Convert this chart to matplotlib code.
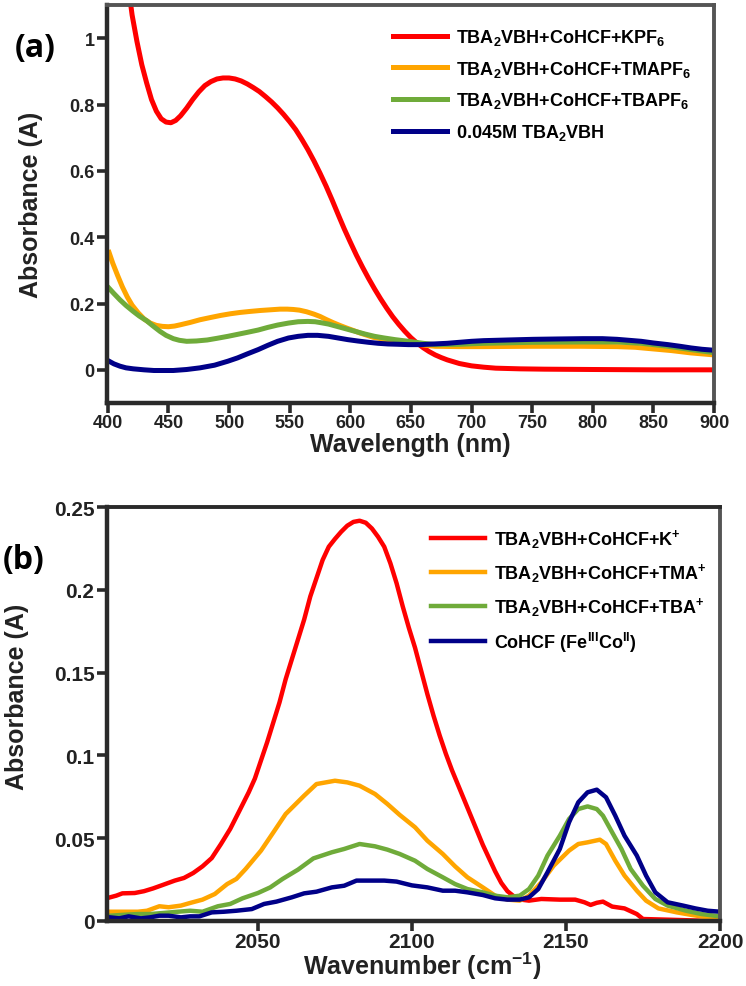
import matplotlib
matplotlib.use("Agg")
import matplotlib.pyplot as plt

plt.rcParams['font.family'] = ['Liberation Sans', 'DejaVu Sans']
plt.rcParams['font.weight'] = 'bold'
plt.rcParams['axes.labelweight'] = 'bold'
plt.rcParams['mathtext.fontset'] = 'custom'
plt.rcParams['mathtext.rm'] = 'Liberation Sans:bold'
plt.rcParams['mathtext.it'] = 'Liberation Sans:bold'
plt.rcParams['mathtext.bf'] = 'Liberation Sans:bold'
plt.rcParams['mathtext.default'] = 'rm'

#### PANEL (a) UV-vis ####
wl_kpf6 = [412, 416, 420, 424, 428, 432, 436, 440, 444, 448, 452, 456, 460, 465, 470, 475, 480, 485,
           490, 495, 500, 505, 510, 515, 520, 525, 530, 535, 540, 545, 550, 555, 560, 565, 570, 575,
           580, 585, 590, 595, 600, 605, 610, 615, 620, 625, 630, 635, 640, 645, 650, 655, 660, 665,
           670, 675, 680, 690, 700, 710, 720, 740, 760, 800, 850, 900]
abs_kpf6 = [1.35, 1.18, 1.07, 0.99, 0.92, 0.865, 0.815, 0.78, 0.757, 0.747, 0.745, 0.752, 0.766,
            0.789, 0.815, 0.838, 0.857, 0.869, 0.877, 0.880, 0.880, 0.877, 0.871, 0.862, 0.851,
            0.839, 0.824, 0.808, 0.790, 0.770, 0.748, 0.724, 0.695, 0.664, 0.630, 0.593, 0.554,
            0.512, 0.468, 0.425, 0.385, 0.346, 0.310, 0.276, 0.244, 0.214, 0.186, 0.160, 0.137,
            0.116, 0.097, 0.081, 0.067, 0.055, 0.045, 0.037, 0.030, 0.019, 0.012, 0.008, 0.005,
            0.003, 0.002, 0.001, 0.0, 0.0]

wl_tma = [401, 404, 408, 412, 416, 420, 425, 430, 435, 440, 445, 450, 455, 460, 468, 476, 485, 493,
          501, 509, 517, 526, 534, 542, 548, 553, 558, 564, 570, 575, 580, 586, 592, 597, 603, 608,
          614, 619, 625, 630, 638, 647, 655, 662, 670, 690, 710, 750, 790, 820, 835, 850, 865, 881,
          900]
abs_tma = [0.354, 0.322, 0.285, 0.250, 0.220, 0.195, 0.172, 0.153, 0.141, 0.134, 0.131, 0.130,
           0.132, 0.136, 0.143, 0.151, 0.158, 0.164, 0.169, 0.173, 0.176, 0.179, 0.181, 0.183,
           0.183, 0.182, 0.180, 0.175, 0.168, 0.161, 0.152, 0.142, 0.133, 0.126, 0.118, 0.111,
           0.104, 0.098, 0.094, 0.090, 0.087, 0.083, 0.078, 0.074, 0.071, 0.070, 0.070, 0.071,
           0.071, 0.070, 0.068, 0.063, 0.058, 0.051, 0.045]

wl_tba = [401, 405, 410, 415, 421, 426, 432, 437, 443, 448, 454, 459, 465, 473, 482, 490, 499, 507,
          515, 524, 532, 540, 549, 557, 565, 571, 576, 582, 587, 595, 604, 612, 620, 628, 637, 648,
          660, 670, 690, 710, 750, 790, 820, 840, 850, 862, 881, 900]
abs_tba = [0.246, 0.230, 0.211, 0.194, 0.176, 0.162, 0.148, 0.133, 0.116, 0.104, 0.094, 0.089,
           0.086, 0.087, 0.090, 0.095, 0.101, 0.107, 0.113, 0.120, 0.128, 0.135, 0.141, 0.145,
           0.146, 0.145, 0.142, 0.138, 0.133, 0.125, 0.116, 0.108, 0.101, 0.096, 0.091, 0.086,
           0.080, 0.076, 0.077, 0.080, 0.083, 0.084, 0.084, 0.080, 0.076, 0.071, 0.061, 0.052]

wl_vbh = [401, 405, 410, 415, 421, 430, 438, 446, 454, 465, 476, 488, 499, 507, 515, 524, 532, 540,
          549, 557, 565, 573, 582, 590, 598, 606, 615, 623, 631, 640, 648, 658, 669, 680, 690, 700,
          710, 730, 751, 770, 792, 808, 820, 830, 840, 850, 862, 872, 881, 890, 900]
abs_vbh = [0.026, 0.018, 0.011, 0.006, 0.003, 0.000, -0.002, -0.002, -0.002, 0.001, 0.006, 0.014,
           0.026, 0.036, 0.048, 0.061, 0.074, 0.086, 0.096, 0.101, 0.104, 0.104, 0.101, 0.096,
           0.091, 0.087, 0.083, 0.080, 0.078, 0.077, 0.076, 0.076, 0.078, 0.080, 0.083, 0.086,
           0.088, 0.090, 0.092, 0.093, 0.094, 0.094, 0.092, 0.089, 0.086, 0.081, 0.076, 0.071,
           0.066, 0.062, 0.059]

labels_a = [r'TBA$_2$VBH+CoHCF+KPF$_6$', r'TBA$_2$VBH+CoHCF+TMAPF$_6$',
            r'TBA$_2$VBH+CoHCF+TBAPF$_6$', r'0.045M TBA$_2$VBH']
xticks_a = [400, 450, 500, 550, 600, 650, 700, 750, 800, 850, 900]
yticks_a = [0, 0.2, 0.4, 0.6, 0.8, 1]
yticklabels_a = ['0', '0.2', '0.4', '0.6', '0.8', '1']

#### PANEL (b) IR ####
wn_k = [2002, 2004, 2006, 2010, 2013, 2016, 2019, 2023, 2026, 2029, 2032, 2035, 2038, 2041, 2044,
        2047, 2049, 2051, 2053, 2055, 2057, 2059, 2061, 2063, 2065, 2067, 2069, 2071, 2073, 2075,
        2077, 2079, 2081, 2083, 2085, 2087, 2089, 2091, 2093, 2095, 2097, 2099, 2101, 2103, 2105,
        2107, 2109, 2111, 2113, 2115, 2117, 2119, 2121, 2123, 2125, 2127, 2129, 2131, 2133, 2135,
        2138, 2142, 2148, 2153, 2156, 2158, 2160, 2162, 2165, 2169, 2173, 2175, 2183, 2194, 2200]
ir_k = [0.0143, 0.0153, 0.0167, 0.0169, 0.018, 0.0197, 0.0217, 0.0244, 0.026, 0.029, 0.033, 0.038,
        0.0465, 0.0556, 0.0666, 0.0777, 0.086, 0.097, 0.108, 0.120, 0.132, 0.146, 0.158, 0.170,
        0.182, 0.196, 0.207, 0.218, 0.226, 0.2307, 0.235, 0.2387, 0.241, 0.2417, 0.2405, 0.237,
        0.232, 0.226, 0.216, 0.204, 0.190, 0.177, 0.165, 0.151, 0.137, 0.124, 0.112, 0.101, 0.091,
        0.082, 0.073, 0.064, 0.055, 0.046, 0.038, 0.030, 0.023, 0.018, 0.015, 0.013, 0.0123,
        0.0133, 0.0129, 0.0129, 0.0113, 0.0097, 0.011, 0.0117, 0.0087, 0.0076, 0.0042, 0.0012,
        0.0008, 0.0002, 0.0]

wn_tma = [2002, 2006, 2011, 2014, 2018, 2021, 2025, 2028, 2032, 2036, 2040, 2043, 2046, 2051, 2055,
          2059, 2065, 2069, 2075, 2079, 2083, 2088, 2092, 2096, 2101, 2105, 2110, 2114, 2118, 2123,
          2127, 2131, 2135, 2138, 2142, 2146, 2151, 2154, 2157, 2161, 2163, 2166, 2169, 2173, 2176,
          2180, 2186, 2191, 2196, 2200]
ir_tma = [0.0056, 0.0056, 0.0056, 0.0062, 0.0089, 0.0083, 0.0093, 0.0109, 0.0129, 0.0163, 0.0223,
          0.0254, 0.0314, 0.0425, 0.0535, 0.0646, 0.0757, 0.0827, 0.0847, 0.0837, 0.0817, 0.0767,
          0.0707, 0.0641, 0.0566, 0.0485, 0.0405, 0.033, 0.0264, 0.0203, 0.0153, 0.0129, 0.0123,
          0.0153, 0.0233, 0.0334, 0.0425, 0.0465, 0.0475, 0.0491, 0.0465, 0.0364, 0.0274, 0.0183,
          0.0123, 0.0076, 0.0052, 0.0036, 0.0022, 0.0012]

wn_tba = [2002, 2006, 2011, 2015, 2019, 2024, 2028, 2032, 2037, 2041, 2045, 2050, 2054, 2058, 2063,
          2068, 2074, 2078, 2083, 2088, 2092, 2096, 2101, 2105, 2110, 2114, 2118, 2123, 2127, 2131,
          2135, 2138, 2141, 2144, 2148, 2151, 2154, 2157, 2160, 2162, 2165, 2168, 2171, 2175, 2179,
          2183, 2189, 2194, 2200]
ir_tba = [0.0032, 0.0037, 0.0042, 0.0042, 0.0048, 0.0056, 0.0062, 0.0056, 0.0089, 0.0103, 0.0137,
          0.0169, 0.0203, 0.0254, 0.031, 0.0378, 0.0415, 0.0435, 0.0465, 0.0451, 0.0431, 0.0405,
          0.0364, 0.0314, 0.0264, 0.0223, 0.0193, 0.0173, 0.0153, 0.0143, 0.0153, 0.0193, 0.0274,
          0.0395, 0.0515, 0.0616, 0.0676, 0.0692, 0.0676, 0.0636, 0.0535, 0.0435, 0.0314, 0.0213,
          0.0133, 0.0093, 0.0062, 0.0042, 0.0028]

wn_cohcf = [2002, 2005, 2008, 2012, 2015, 2018, 2021, 2025, 2028, 2031, 2035, 2039, 2043, 2048, 2052,
            2056, 2061, 2065, 2069, 2074, 2078, 2082, 2087, 2091, 2095, 2100, 2105, 2110, 2114, 2118,
            2123, 2127, 2131, 2135, 2138, 2141, 2144, 2148, 2151, 2154, 2157, 2160, 2163, 2166, 2169,
            2173, 2176, 2179, 2183, 2188, 2192, 2196, 2200]
ir_cohcf = [0.0022, 0.0016, 0.0028, 0.0016, 0.0022, 0.0032, 0.0032, 0.0022, 0.0028, 0.0028, 0.0052,
            0.0056, 0.0062, 0.0072, 0.0103, 0.0117, 0.0143, 0.0167, 0.0177, 0.0203, 0.0213, 0.0244,
            0.0244, 0.0244, 0.0238, 0.0215, 0.0203, 0.0183, 0.0183, 0.0173, 0.0157, 0.0137, 0.0129,
            0.0129, 0.0143, 0.0193, 0.0294, 0.0435, 0.0596, 0.0717, 0.0777, 0.0793, 0.0747, 0.0636,
            0.0515, 0.0395, 0.0274, 0.0173, 0.0113, 0.0093, 0.0076, 0.0062, 0.0056]

labels_b = [r'TBA$_2$VBH+CoHCF+K$^{+}$', r'TBA$_2$VBH+CoHCF+TMA$^{+}$',
            r'TBA$_2$VBH+CoHCF+TBA$^{+}$', r'CoHCF (Fe$^{III}$Co$^{II}$)']
xticks_b = [2050, 2100, 2150, 2200]
yticks_b = [0, 0.05, 0.1, 0.15, 0.2, 0.25]
yticklabels_b = ['0', '0.05', '0.1', '0.15', '0.2', '0.25']

colors = ['#ff0000', '#ffa500', '#6fab3a', '#000088']
dark = '#2a2a2a'
W, H = 746, 987

fig = plt.figure(figsize=(W / 100, H / 100), dpi=100)
ax1 = fig.add_axes([107 / W, 1 - 404 / H, (714 - 107) / W, (404 - 6) / H])
ax2 = fig.add_axes([107 / W, 1 - 922 / H, (720 - 107) / W, (922 - 508) / H])

def style_axes(ax, tick_fs):
    for side in ['left', 'bottom']:
        ax.spines[side].set_color(dark)
        ax.spines[side].set_linewidth(3.2)
    for side in ['top', 'right']:
        ax.spines[side].set_color('#555555')
        ax.spines[side].set_linewidth(2.8)
    ax.tick_params(direction='out', length=7, width=2.6, color=dark,
                   labelsize=tick_fs, labelcolor='#222222', pad=2)

# (a)
series_a = [(wl_kpf6, abs_kpf6), (wl_tma, abs_tma), (wl_tba, abs_tba), (wl_vbh, abs_vbh)]
for (x, y), c, lab in zip(series_a, colors, labels_a):
    ax1.plot(x, y, color=c, lw=3.6, label=lab, solid_joinstyle='round')
ax1.set_xlim(399.3, 900)
ax1.set_ylim(-0.1, 1.1)
ax1.set_xticks(xticks_a)
ax1.set_yticks(yticks_a)
ax1.set_yticklabels(yticklabels_a)
style_axes(ax1, 13)
ax1.tick_params(axis='x', pad=1)
ax1.set_xlabel('Wavelength (nm)', fontsize=18, color='#222222')
ax1.set_ylabel('Absorbance (A)', fontsize=18, color='#222222')
ax1.xaxis.set_label_coords(0.5, -0.072)
ax1.yaxis.set_label_coords(-0.105, 0.5)
ax1.legend(loc='upper left', bbox_to_anchor=(393 / W, 1 - 28 / H), bbox_transform=fig.transFigure,
           frameon=False, fontsize=13, handlelength=3.0, handletextpad=0.5, labelspacing=0.65,
           borderpad=0, borderaxespad=0)

# (b)
series_b = [(wn_k, ir_k), (wn_tma, ir_tma), (wn_tba, ir_tba), (wn_cohcf, ir_cohcf)]
for (x, y), c, lab in zip(series_b, colors, labels_b):
    ax2.plot(x, y, color=c, lw=3.2, label=lab, solid_joinstyle='round')
ax2.set_xlim(2001, 2200)
ax2.set_ylim(0, 0.25)
ax2.set_xticks(xticks_b)
ax2.set_yticks(yticks_b)
ax2.set_yticklabels(yticklabels_b)
style_axes(ax2, 15)
ax2.tick_params(axis='x', pad=1)
ax2.spines['top'].set_color(dark)
ax2.set_xlabel(r'Wavenumber (cm$^{-1}$)', fontsize=18, color='#222222')
ax2.set_ylabel('Absorbance (A)', fontsize=18, color='#222222')
ax2.xaxis.set_label_coords(0.515, -0.068)
ax2.yaxis.set_label_coords(-0.128, 0.543)
ax2.legend(loc='upper left', bbox_to_anchor=(431 / W, 1 - 528 / H), bbox_transform=fig.transFigure,
           frameon=False, fontsize=13, handlelength=3.0, handletextpad=0.5, labelspacing=0.62,
           borderpad=0, borderaxespad=0)

fig.text(15 / W, 1 - 49 / H, '(a)', fontsize=23, fontweight='bold', family=['Open Sans', 'DejaVu Sans'],
         va='center', ha='left', color='black')
fig.text(3 / W, 1 - 560 / H, '(b)', fontsize=23, fontweight='bold', family=['Open Sans', 'DejaVu Sans'],
         va='center', ha='left', color='black')

fig.savefig('out.png', dpi=100)
